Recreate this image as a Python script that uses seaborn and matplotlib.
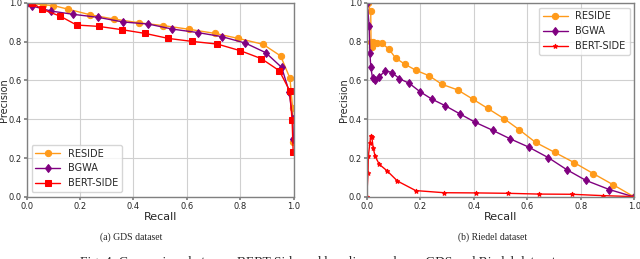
import matplotlib
matplotlib.use("Agg")
import matplotlib.pyplot as plt
import seaborn as sns
import pandas as pd

# ---- GDS dataset ----
gds_reside_recall = [0.0, 0.02, 0.06, 0.10, 0.154, 0.237, 0.326, 0.419, 0.512, 0.609, 0.705, 0.793, 0.885, 0.951, 0.986, 0.996, 0.998]
gds_reside_prec = [1.0, 0.995, 0.99, 0.985, 0.967, 0.938, 0.916, 0.897, 0.882, 0.863, 0.842, 0.816, 0.786, 0.726, 0.611, 0.456, 0.285]

gds_bgwa_recall = [0.0, 0.021, 0.091, 0.175, 0.266, 0.360, 0.456, 0.546, 0.642, 0.732, 0.819, 0.895, 0.955, 0.983, 0.996, 0.999]
gds_bgwa_prec = [1.0, 0.983, 0.957, 0.940, 0.925, 0.901, 0.890, 0.864, 0.846, 0.825, 0.792, 0.743, 0.667, 0.542, 0.40, 0.30]

gds_bert_recall = [0.02, 0.056, 0.125, 0.187, 0.270, 0.357, 0.443, 0.531, 0.618, 0.714, 0.800, 0.879, 0.946, 0.985, 0.994, 0.998]
gds_bert_prec = [1.0, 0.967, 0.931, 0.885, 0.878, 0.861, 0.842, 0.816, 0.801, 0.787, 0.753, 0.712, 0.650, 0.547, 0.396, 0.232]

# ---- Riedel dataset ----
rie_reside_recall = [0.003, 0.015, 0.016, 0.020, 0.025, 0.037, 0.057, 0.082, 0.108, 0.143, 0.184, 0.233, 0.281, 0.340, 0.396, 0.452, 0.513, 0.570, 0.631, 0.702, 0.775, 0.847, 0.922, 1.0]
rie_reside_prec = [1.0, 0.957, 0.796, 0.77, 0.80, 0.79, 0.79, 0.763, 0.715, 0.683, 0.652, 0.624, 0.580, 0.551, 0.504, 0.456, 0.403, 0.346, 0.281, 0.230, 0.177, 0.120, 0.062, 0.0]

rie_bgwa_recall = [0.002, 0.009, 0.012, 0.015, 0.022, 0.031, 0.047, 0.070, 0.095, 0.122, 0.159, 0.199, 0.243, 0.293, 0.349, 0.406, 0.471, 0.535, 0.605, 0.679, 0.747, 0.818, 0.907, 1.0]
rie_bgwa_prec = [1.0, 0.88, 0.74, 0.67, 0.61, 0.60, 0.62, 0.65, 0.64, 0.609, 0.585, 0.542, 0.504, 0.470, 0.427, 0.384, 0.343, 0.300, 0.257, 0.202, 0.141, 0.086, 0.038, 0.0]

rie_bert_recall = [0.0, 0.005, 0.006, 0.012, 0.015, 0.019, 0.024, 0.031, 0.047, 0.075, 0.115, 0.183, 0.289, 0.407, 0.526, 0.644, 0.766, 0.882, 1.0]
rie_bert_prec = [0.0, 0.125, 0.21, 0.28, 0.316, 0.31, 0.254, 0.211, 0.168, 0.136, 0.082, 0.033, 0.022, 0.021, 0.019, 0.015, 0.014, 0.007, 0.002]

ticks = [0.0, 0.2, 0.4, 0.6, 0.8, 1.0]
tick_labels = ["0.0", "0.2", "0.4", "0.6", "0.8", "1.0"]
series_names = ["RESIDE", "BGWA", "BERT-SIDE"]
captions = ["(a) GDS dataset", "(b) Riedel dataset"]
fig_caption = "Fig. 4: Comparison between BERT-Side and baseline works on GDS and Riedel datasets"

sns.set_theme(style="whitegrid")
plt.rcParams["font.family"] = ["DejaVu Sans"]

fig = plt.figure(figsize=(6.4, 2.59), dpi=100)
ax1 = fig.add_axes([0.0417, 0.2394, 0.4172, 0.7502])
ax2 = fig.add_axes([0.5730, 0.2394, 0.4182, 0.7502])

colors = ["#ff9a1a", "#800080", "#ff0000"]

def draw(ax, data, markers, msizes):
    for (r, p), name, c, m, ms in zip(data, series_names, colors, markers, msizes):
        df = pd.DataFrame({"Recall": r, "Precision": p})
        sns.lineplot(data=df, x="Recall", y="Precision", ax=ax, color=c, marker=m,
                     markersize=ms, markeredgecolor=c, linewidth=1.0, label=name,
                     sort=False, estimator=None)
    ax.set_xlim(0, 1)
    ax.set_ylim(0, 1)
    ax.set_xticks(ticks)
    ax.set_xticklabels(tick_labels)
    ax.set_yticks(ticks)
    ax.set_yticklabels(tick_labels)
    ax.tick_params(labelsize=6, pad=1.0, length=2.5, color="#808080", left=True, bottom=True)
    ax.set_xlabel("Recall", fontsize=8, labelpad=1)
    ax.set_ylabel("Precision", fontsize=7)
    ax.yaxis.set_label_coords(-0.066, 0.5)
    ax.grid(True, color="#d0d0d0", linewidth=0.8)
    for s in ax.spines.values():
        s.set_color("#808080")
        s.set_linewidth(1.0)

draw(ax1, [(gds_reside_recall, gds_reside_prec), (gds_bgwa_recall, gds_bgwa_prec),
           (gds_bert_recall, gds_bert_prec)], ["o", "d", "s"], [4.5, 4.5, 4.5])
draw(ax2, [(rie_reside_recall, rie_reside_prec), (rie_bgwa_recall, rie_bgwa_prec),
           (rie_bert_recall, rie_bert_prec)], ["o", "d", "*"], [4.5, 4.5, 3.5])

ax1.legend(loc="lower left", fontsize=7, frameon=True, borderpad=0.4, handlelength=2.5, labelspacing=0.5)
ax2.legend(loc="upper right", fontsize=7, frameon=True, borderpad=0.4, handlelength=2.5, labelspacing=0.5)

fig.text(0.205, 0.083, captions[0], ha="center", va="center", fontsize=7, family="Liberation Serif")
fig.text(0.77, 0.083, captions[1], ha="center", va="center", fontsize=7, family="Liberation Serif")
fig.text(0.5, -0.01, fig_caption, ha="center", va="center", fontsize=9.7, family="Liberation Serif")

fig.savefig("out.png", dpi=100)
